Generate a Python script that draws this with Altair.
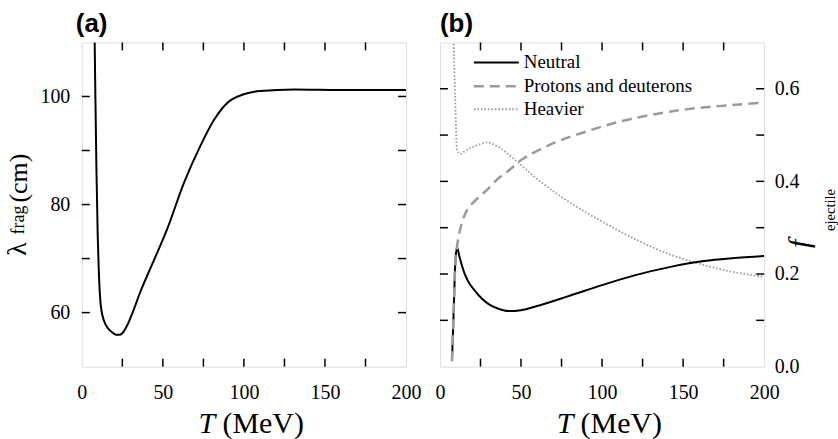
import altair as alt
import pandas as pd

# ---------------- data ----------------
# Panel (a): fragmentation length vs kinetic energy
T_a = [7.9, 8.4, 9.0, 9.8, 10.4, 11.4, 12.2, 13.8, 15.9, 19.0, 21.0, 23.0, 25.0, 28.1, 31.2,
       36.3, 43.5, 52.7, 63.0, 73.2, 81.4, 89.7, 99.9, 110.0, 131.0, 160.0, 200.0]
lam_frag = [111.0, 99.5, 87.0, 74.5, 68.5, 62.3, 60.3, 58.4, 57.2, 56.3, 55.9, 55.9, 56.2, 57.7, 59.9,
            64.0, 69.0, 75.5, 84.0, 90.9, 95.6, 98.8, 100.4, 101.0, 101.3, 101.2, 101.2]

# Panel (b): ejectile fractions
T_neutral = [7.4, 8.4, 9.4, 10.5, 12.0, 13.5, 15.5, 17.6, 21.7, 25.8, 30.0, 36.1,
             42.3, 50.0, 60.0, 80.0, 100.0, 120.0, 143.0, 163.0, 180.0, 200.0]
f_neutral = [0.012, 0.111, 0.219, 0.258, 0.238, 0.219, 0.198, 0.183, 0.163, 0.147, 0.135, 0.125,
             0.120, 0.122, 0.131, 0.153, 0.176, 0.197, 0.216, 0.228, 0.234, 0.239]

T_protons = [7.4, 8.4, 9.4, 10.5, 12.5, 14.6, 17.0, 20.7, 25.0, 30.0, 35.0, 42.3,
             50.5, 60.0, 71.0, 91.5, 112.0, 132.5, 153.0, 173.5, 200.0]
f_protons = [0.012, 0.111, 0.219, 0.258, 0.297, 0.322, 0.340, 0.355, 0.369, 0.385, 0.403, 0.423,
             0.447, 0.466, 0.484, 0.509, 0.530, 0.545, 0.556, 0.563, 0.570]

T_heavier = [8.3, 9.4, 10.5, 12.5, 15.6, 21.7, 28.9, 36.1, 46.4, 60.7, 81.2, 101.7,
             122.3, 142.8, 163.3, 180.0, 200.0]
f_heavier = [0.72, 0.577, 0.469, 0.459, 0.466, 0.476, 0.484, 0.474, 0.446, 0.403, 0.352, 0.310,
             0.272, 0.241, 0.219, 0.205, 0.194]

legend_names = ["Neutral", "Protons and deuterons", "Heavier"]

x_labels = [0, 50, 100, 150, 200]
x_minor = [25, 50, 75, 100, 125, 150, 175]
ya_labels = [60, 80, 100]
ya_minor = [60, 70, 80, 90, 100]
yb_labels = [0.0, 0.2, 0.4, 0.6]
yb_minor = [0.1, 0.2, 0.3, 0.4, 0.5, 0.6]

# ---------------- styling ----------------
W = H = 325
SERIF = "Liberation Serif"
SANS = "Liberation Sans"
TICK = 8
GRAY_DASH = "#9a9a9a"
GRAY_DOT = "#9c9c9c"
DOT = [1.6, 1.9]

xscale = alt.Scale(domain=[0, 200], nice=False, zero=False)
ya_scale = alt.Scale(domain=[50, 110], nice=False, zero=False)
yb_scale = alt.Scale(domain=[0, 0.7], nice=False, zero=False)

x_axis = alt.Axis(values=x_labels, ticks=False, domain=False, grid=False,
                  labelFont=SERIF, labelFontSize=20, labelColor="black",
                  labelPadding=16, labelFlush=False, title=None)
ya_axis = alt.Axis(values=ya_labels, ticks=False, domain=False, grid=False,
                   labelFont=SERIF, labelFontSize=20, labelColor="black",
                   labelPadding=12, title=None)
yb_axis = alt.Axis(values=yb_labels, orient="right", format=".1f", ticks=False, domain=False,
                   grid=False, labelFont=SERIF, labelFontSize=20, labelColor="black",
                   labelPadding=10, title=None)


def text(s, x, y, size, font=SERIF, **kw):
    return alt.Chart(pd.DataFrame({"s": [s]})).mark_text(
        font=font, fontSize=size, color="black", **kw
    ).encode(text="s:N", x=alt.value(x), y=alt.value(y))


def x_ticks():
    base = alt.Chart(pd.DataFrame({"v": x_minor}))
    bottom = base.mark_rule(color="black", strokeWidth=1.5).encode(
        x=alt.X("v:Q", scale=xscale, axis=x_axis), y=alt.value(H), y2=alt.value(H - TICK))
    top = base.mark_rule(color="black", strokeWidth=1.5).encode(
        x=alt.X("v:Q", scale=xscale, axis=x_axis), y=alt.value(0), y2=alt.value(TICK))
    return [bottom, top]


def y_ticks(vals, scale, axis):
    base = alt.Chart(pd.DataFrame({"v": vals}))
    left = base.mark_rule(color="black", strokeWidth=1.5).encode(
        y=alt.Y("v:Q", scale=scale, axis=axis), x=alt.value(0), x2=alt.value(TICK))
    right = base.mark_rule(color="black", strokeWidth=1.5).encode(
        y=alt.Y("v:Q", scale=scale, axis=axis), x=alt.value(W - TICK), x2=alt.value(W))
    return [left, right]


def xtitle():
    return [
        text("T", 117, 392, 30, fontStyle="italic", align="left", baseline="alphabetic"),
        text("(MeV)", 141, 392, 30, align="left", baseline="alphabetic"),
    ]


# ---------------- panel (a) ----------------
df_a = pd.DataFrame({"T": T_a, "lam": lam_frag})
line_a = alt.Chart(df_a).mark_line(color="black", strokeWidth=2, interpolate="monotone", clip=True).encode(
    x=alt.X("T:Q", scale=xscale, axis=x_axis),
    y=alt.Y("lam:Q", scale=ya_scale, axis=ya_axis),
)

panel_a = alt.layer(
    line_a,
    *x_ticks(),
    *y_ticks(ya_minor, ya_scale, ya_axis),
    text("(a)", -6, -10, 26, font=SANS, fontWeight="bold", align="left", baseline="alphabetic"),
    text("λ", -64, 207, 28, angle=270, align="center", baseline="middle"),
    text("frag", -63, 178, 18, angle=270, align="center", baseline="middle"),
    text("(cm)", -62.5, 136, 26, angle=270, align="center", baseline="middle"),
    *xtitle(),
).properties(width=W, height=H)

# ---------------- panel (b) ----------------
df_n = pd.DataFrame({"T": T_neutral, "f": f_neutral})
df_p = pd.DataFrame({"T": T_protons, "f": f_protons})
df_h = pd.DataFrame({"T": T_heavier, "f": f_heavier})

line_h = alt.Chart(df_h).mark_line(color=GRAY_DOT, strokeWidth=1.8, strokeDash=DOT,
                                   interpolate="monotone", clip=True).encode(
    x=alt.X("T:Q", scale=xscale, axis=x_axis),
    y=alt.Y("f:Q", scale=yb_scale, axis=yb_axis),
)
line_n = alt.Chart(df_n).mark_line(color="black", strokeWidth=2, interpolate="monotone", clip=True).encode(
    x=alt.X("T:Q", scale=xscale, axis=x_axis),
    y=alt.Y("f:Q", scale=yb_scale, axis=yb_axis),
)
line_p = alt.Chart(df_p).mark_line(color=GRAY_DASH, strokeWidth=2.5, strokeDash=[10, 6],
                                   interpolate="monotone", clip=True).encode(
    x=alt.X("T:Q", scale=xscale, axis=x_axis),
    y=alt.Y("f:Q", scale=yb_scale, axis=yb_axis),
)

LX1, LX2, LTX = 34, 79, 84
LY = [20, 44, 67]
leg = [
    alt.Chart(pd.DataFrame({"n": [legend_names[0]]})).mark_rule(color="black", strokeWidth=2).encode(
        x=alt.value(LX1), x2=alt.value(LX2), y=alt.value(LY[0])),
    alt.Chart(pd.DataFrame({"n": [legend_names[1]]})).mark_rule(color=GRAY_DASH, strokeWidth=2.5,
                                                                  strokeDash=[10, 6]).encode(
        x=alt.value(LX1), x2=alt.value(LX2), y=alt.value(LY[1])),
    alt.Chart(pd.DataFrame({"n": [legend_names[2]]})).mark_rule(color=GRAY_DOT, strokeWidth=1.8,
                                                                  strokeDash=DOT).encode(
        x=alt.value(LX1), x2=alt.value(LX2), y=alt.value(LY[2])),
]
for name, yy in zip(legend_names, LY):
    leg.append(text(name, LTX, yy, 19, align="left", baseline="middle"))

panel_b = alt.layer(
    line_h, line_n, line_p,
    *x_ticks(),
    *y_ticks(yb_minor, yb_scale, yb_axis),
    *leg,
    text("(b)", 0, -10, 26, font=SANS, fontWeight="bold", align="left", baseline="alphabetic"),
    text("f", 361, 202, 30, fontStyle="italic", angle=270, align="center", baseline="middle"),
    text("ejectile", 392, 168, 14.5, angle=270, align="center", baseline="middle"),
    *xtitle(),
).properties(width=W, height=H)

chart = alt.hconcat(panel_a, panel_b, spacing=12,
                    padding={"left": 3, "top": 10, "right": 0, "bottom": 0}
                    ).configure_view(stroke="black", strokeWidth=2
                    ).configure(background="white")

chart.save("out.html", embed_options={"renderer": "svg", "actions": False})
